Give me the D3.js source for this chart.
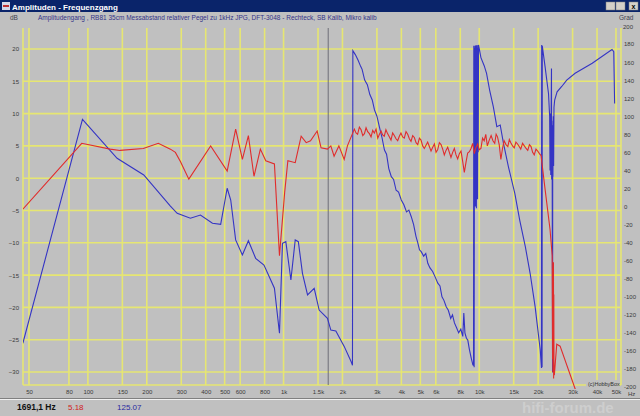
<!DOCTYPE html>
<html><head><meta charset="utf-8">
<script src="https://cdn.jsdelivr.net/npm/d3@7"></script>
<style>html,body{margin:0;padding:0;background:#c0c0c0;overflow:hidden}svg{display:block}</style>
</head><body><svg id="c" width="640" height="416"></svg>
<script>
// ---- data ----
const freqTicks = [50,80,100,150,200,300,400,500,600,800,1000,1500,2000,3000,4000,5000,6000,8000,10000,15000,20000,30000,40000,50000];
const freqLabels = ["50","80","100","150","200","300","400","500","600","800","1k","1.5k","2k","3k","4k","5k","6k","8k","10k","15k","20k","30k","40k","50k"];
const dbTicks = [20,15,10,5,0,-5,-10,-15,-20,-25,-30];
const degTicks = [200,180,160,140,120,100,80,60,40,20,0,-20,-40,-60,-80,-100,-120,-140,-160,-180,-200];

const redFreq = [46.5,93,130,146,192,229,264,280,297,328,424,515,569,616,661,706,761,811,898,953,1013,1052,1147,1230,1305,1373,1485,1555,1676,1744,1812,1917,2041,2120,
 2300,2345,2390,2440,2490,2540,2590,2640,2690,2745,2800,2855,2910,2970,3030,3090,3150,3210,3270,3335,3400,3470,3540,3610,3680,3755,3830,3905,3980,4060,4140,4225,4310,4395,4480,4570,4660,4755,4850,4945,
 5040,5140,5240,5345,5450,5560,5670,5785,5900,6015,6130,6255,6380,6505,6630,6765,6900,7035,7170,7315,7460,7610,7760,7915,8070,8230,8390,8560,8730,8905,9080,9260,9440,9630,9820,10000,
 10200,10400,10600,10800,11000,11250,11500,11750,12000,12200,12400,12650,12900,13150,13400,13700,14000,14250,14500,14800,15100,15400,15700,16000,16300,16650,17000,17350,17700,18050,18400,18750,19100,19500,19900,20300,20700,
 21700,23000,23600,23700,23750,23800,23850,23900,23950,24000,24050,24100,24200,24900,25900,30900,33000];
const redDb = [-4.8,5.4,4.5,4.3,4.6,5.4,4.5,4.0,2.6,-0.15,5.0,1.1,7.6,2.9,6.6,0.3,4.5,2.7,2.2,-12.0,-2.2,2.7,2.4,6.5,5.5,5.8,7.3,4.7,4.5,5.0,3.4,5.0,2.9,5.0,
 7.6,7.0,6.8,7.9,7.5,6.6,6.9,7.8,7.2,6.9,6.4,7.4,7.0,7.6,6.2,6.8,7.3,6.7,6.5,7.5,6.9,6.4,5.9,7.0,6.6,6.1,5.8,6.5,7.0,6.4,6.2,7.2,6.8,6.1,5.7,6.6,6.3,5.5,5.2,6.2,
 5.9,5.0,4.6,5.1,5.6,4.9,4.2,4.8,5.3,4.0,4.4,5.5,5.2,4.5,3.6,4.3,4.8,4.0,3.2,4.0,4.6,3.6,3.0,3.8,4.2,2.6,0.9,2.5,3.9,4.1,4.6,5.4,3.8,4.8,5.3,4.4,
 4.6,6.2,5.8,6.8,5.0,5.9,6.6,5.8,5.4,6.8,6.4,5.2,2.9,4.6,5.8,5.2,4.9,6.0,5.5,5.0,4.7,5.6,5.3,4.9,4.5,5.4,5.0,4.6,4.3,5.2,4.9,4.0,3.6,4.5,4.2,3.8,3.5,
 -1.7,-7.9,-12,-28,-14,-30,-16,-29,-13,-31,-18,-30,-30.5,-25.7,-26,-32.6,-35];

const blueFreq = [46.5,93.8,141,193,264,286,334,376,433,477,515,537,569,616,661,720,794,898,953,987,1027,1090,1147,1190,1249,1326,1434,1520,1676,1744,1850,2041,2216,2250,2260,
 2330,2404,2480,2520,2597,2680,2760,2840,2915,3000,3090,3180,3278,3360,3450,3553,3650,3760,3870,3996,4120,4250,4370,4494,4620,4750,4850,4950,5050,5200,5330,5460,5600,5780,5950,
 6140,6300,6450,6600,6780,6950,7150,7300,7470,7650,7850,8050,8240,8340,8450,8600,8740,8900,9100,9280,
 9350,9380,9420,9460,9490,9520,9550,9580,9610,9640,9670,9700,9730,9760,9800,9840,9880,9920,
 10200,10600,10900,11300,11800,12300,12800,13300,14100,15200,16100,17200,18200,19300,20500,20800,20850,20950,21000,21700,22600,22900,
 23000,23100,23200,23300,23400,23450,23500,23600,23700,23750,23800,23900,24000,24100,24300,25000,26400,28000,30900,37800,47700,48700,49200];
const blueDeg = [-151.6,96.6,53.4,34.9,0.5,-7.5,-13,-9.4,-18.6,-19.7,20.2,7.2,-37,-53.7,-38,-57.4,-64.8,-90.6,-140.5,-40.8,-39,-81.4,-37.1,-39,-74,-98,-90.6,-114.7,-123.9,-137,-138,-155,-172,-176,172.6,
 168,162,155,152,140,135,124,118,107,100,88,77,62.6,58,42,33,30,18,16,7.2,2,-6,-4,-11.3,-20,-33,-40,-48,-50,-55,-52,-63,-68,-72,-78,
 -85,-88,-100,-104,-111,-115,-124,-120,-129,-134,-140,-136,-144,-118,-140,-146,-148,-158,-168,-175.6,
 -176,178,-178,176,5,178,0,177,10,179,-2,178,20,176,8,179,60,179,
 165,156,147.6,129,110.6,88.4,90.3,70,44,14.6,-15,-44.5,-74,-111,-159,-179,179,-178,178,155,125,100,
 40,103,35,98,153,30,95,38,-184,90,33,100,45,110,118,127,133,140,147.6,158.7,174,171.5,114];

const cursorFreq = 1691.1;
const statusTexts = ["1691,1 Hz","5.18","125.07"];

// ---- drawing ----
const svg = d3.select("#c");
const W = 640, H = 416;
const P = {l:23, r:621, t:28, b:385};
const x = d3.scaleLog().domain([50,50000]).range([29,616]);
const yDb = d3.scaleLinear().domain([-30,20]).range([372,49]);
const yDeg = d3.scaleLinear().domain([-200,200]).range([387,26]);
const font = "'Liberation Sans', Arial, sans-serif";

svg.append("rect").attr("width",W).attr("height",H).attr("fill","#c0c0c0");

// title bar
svg.append("rect").attr("x",0).attr("y",0).attr("width",W).attr("height",12).attr("fill","#0a246a");
svg.append("rect").attr("x",2).attr("y",2).attr("width",8).attr("height",8).attr("fill","#d8d8e8");
svg.append("rect").attr("x",3).attr("y",5).attr("width",6).attr("height",2).attr("fill","#c03030");
svg.append("text").attr("x",12).attr("y",9.5).attr("fill","#ffffff").attr("font-family",font)
  .attr("font-size",8).attr("font-weight","bold").text("Amplituden - Frequenzgang");
[606,616,629].forEach(bx=>{
  svg.append("rect").attr("x",bx).attr("y",2).attr("width",9).attr("height",8).attr("fill","#d4d0c8").attr("stroke","#808080").attr("stroke-width",0.5);
});
svg.append("text").attr("x",633.5).attr("y",9).attr("text-anchor","middle").attr("font-size",7).attr("font-family",font).attr("font-weight","bold").text("x");

// header texts
svg.append("text").attr("x",10).attr("y",20).attr("fill","#404050").attr("font-family",font).attr("font-size",6.5).text("dB");
svg.append("text").attr("x",38).attr("y",20).attr("fill","#343488").attr("font-family",font).attr("font-size",6.5)
  .text("Amplitudengang , RB81 35cm Messabstand relativer Pegel zu 1kHz JPG, DFT-3048 - Rechteck, SB Kalib, Mikro kalib");
svg.append("text").attr("x",619).attr("y",20).attr("fill","#404050").attr("font-family",font).attr("font-size",6.5).text("Grad");

// grid
const gridColor = "#e6e672";
const g = svg.append("g");
g.selectAll("line.h").data(dbTicks).join("line")
  .attr("x1",P.l).attr("x2",P.r).attr("y1",d=>yDb(d)).attr("y2",d=>yDb(d))
  .attr("stroke",gridColor).attr("stroke-width",1.6);
g.selectAll("line.v").data(freqTicks).join("line")
  .attr("y1",P.t).attr("y2",P.b).attr("x1",d=>x(d)).attr("x2",d=>x(d))
  .attr("stroke",gridColor).attr("stroke-width",1.6);
[[P.l,P.t,P.l,P.b],[P.r,P.t,P.r,P.b],[P.l,P.b,P.r,P.b]].forEach(c=>{
  g.append("line").attr("x1",c[0]).attr("y1",c[1]).attr("x2",c[2]).attr("y2",c[3]).attr("stroke",gridColor).attr("stroke-width",1.6);
});

// cursor
svg.append("line").attr("x1",x(cursorFreq)).attr("x2",x(cursorFreq)).attr("y1",P.t).attr("y2",P.b)
  .attr("stroke","#6e6e78").attr("stroke-width",1);

// clip
svg.append("clipPath").attr("id","clip").append("rect").attr("x",P.l).attr("y",P.t).attr("width",P.r-P.l).attr("height",P.b-P.t+4);

const red = redFreq.map((f,i)=>({f, v:redDb[i]}));
const blue = blueFreq.map((f,i)=>({f, v:blueDeg[i]}));
const plot = svg.append("g").attr("clip-path","url(#clip)");
plot.append("path").datum(blue).attr("fill","none").attr("stroke","#3434c4").attr("stroke-width",1.1)
  .attr("d", d3.line().x(d=>x(d.f)).y(d=>yDeg(d.v)));
plot.append("path").datum(red).attr("fill","none").attr("stroke","#e02c2c").attr("stroke-width",1.1)
  .attr("d", d3.line().x(d=>x(d.f)).y(d=>yDb(d.v)));

// axes
function styleAxis(sel){
  sel.select(".domain").remove();
  sel.selectAll("text").attr("font-family",font).attr("font-size",6).attr("fill","#3a3a3a");
}
svg.append("g").attr("transform","translate(20,0)")
  .call(d3.axisLeft(yDb).tickValues(dbTicks).tickSize(0).tickPadding(1)).call(styleAxis);
svg.append("g").attr("transform","translate(623,0)")
  .call(d3.axisRight(yDeg).tickValues(degTicks).tickSize(0).tickPadding(1).tickFormat(d=>d===200?"":d)).call(styleAxis);
svg.append("text").attr("x",623).attr("y",29).attr("font-family",font).attr("font-size",6).attr("fill","#3a3a3a").text("200");
svg.append("g").attr("transform","translate(0,388)")
  .call(d3.axisBottom(x).tickValues(freqTicks).tickSize(0).tickPadding(2).tickFormat((d,i)=>freqLabels[i])).call(styleAxis);
svg.append("text").attr("x",628).attr("y",396).attr("font-family",font).attr("font-size",6).attr("fill","#3a3a3a").text("Hz");

// copyright
svg.append("rect").attr("x",586).attr("y",380).attr("width",33).attr("height",7).attr("fill","#c0c0c0");
svg.append("text").attr("x",588).attr("y",386).attr("font-family",font).attr("font-size",5.5).attr("fill","#303030").text("(c)HobbyBox");

// status bar
svg.append("line").attr("x1",0).attr("x2",W).attr("y1",398.5).attr("y2",398.5).attr("stroke","#808080");
svg.append("line").attr("x1",0).attr("x2",W).attr("y1",399.5).attr("y2",399.5).attr("stroke","#f0f0f0");
svg.append("text").attr("x",522).attr("y",413).attr("font-family",font).attr("font-size",15).attr("font-weight","bold").attr("fill","#cecece").text("hifi-forum.de");
svg.append("text").attr("x",17).attr("y",410).attr("font-family",font).attr("font-size",8.5).attr("font-weight","bold").attr("fill","#101010").text(statusTexts[0]);
svg.append("text").attr("x",68).attr("y",410).attr("font-family",font).attr("font-size",8).attr("fill","#d02020").text(statusTexts[1]);
svg.append("text").attr("x",117).attr("y",410).attr("font-family",font).attr("font-size",8).attr("fill","#2a2aa0").text(statusTexts[2]);
</script></body></html>
